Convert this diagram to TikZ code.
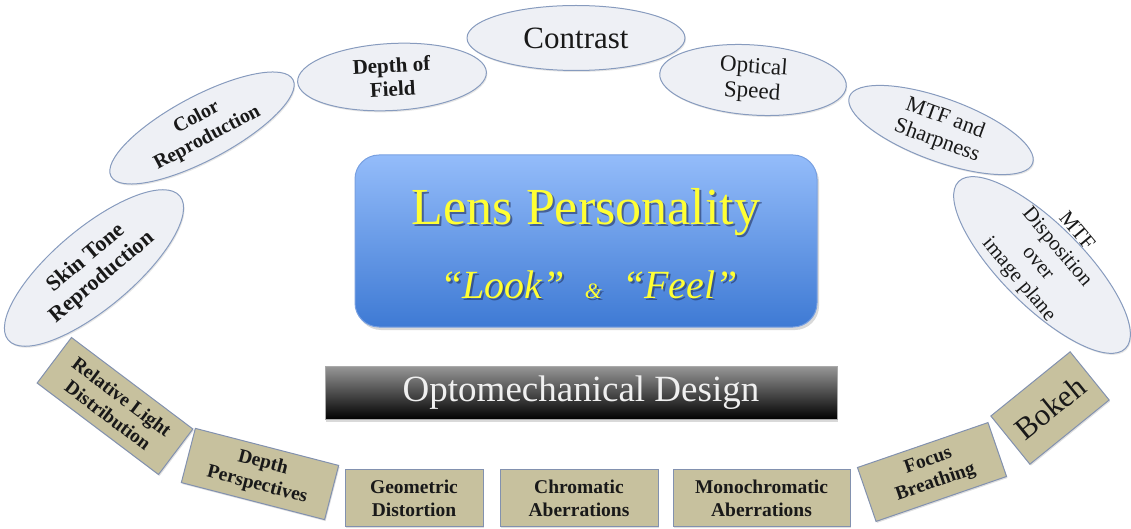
\documentclass[tikz,border=0pt]{standalone}
\usepackage{fontspec}
\setmainfont{Liberation Serif}
\usetikzlibrary{shapes.geometric,shadows}

\definecolor{ovalfill}{RGB}{238,240,245}
\definecolor{ovalline}{RGB}{135,155,190}
\definecolor{tanfill}{RGB}{199,193,158}
\definecolor{tanline}{RGB}{130,145,175}
\definecolor{lenstop}{RGB}{148,188,250}
\definecolor{lensbot}{RGB}{62,122,212}
\definecolor{lensedge}{RGB}{120,160,225}
\definecolor{lensyellow}{RGB}{255,255,51}
\definecolor{lensshade}{RGB}{35,50,95}
\definecolor{bartop}{RGB}{150,150,150}
\definecolor{barline}{RGB}{170,170,170}
\definecolor{bartext}{RGB}{240,240,240}
\definecolor{inktext}{RGB}{25,25,25}

\newcommand{\fsz}[2]{\fontsize{#1}{#2}\selectfont}

\begin{document}
\begin{tikzpicture}[x=1pt, y=-1pt,
    oval/.style={ellipse, draw=ovalline, fill=ovalfill, line width=1pt, inner sep=0pt,
      align=center, text=inktext,
      drop shadow={shadow xshift=1pt, shadow yshift=-1.5pt, opacity=0.2}},
    tanbox/.style={rectangle, draw=tanline, fill=tanfill, line width=1pt, inner sep=0pt,
      align=center, text=inktext, minimum height=57pt, font=\fsz{19.5}{23}\bfseries,
      drop shadow={shadow xshift=1pt, shadow yshift=-1.5pt, opacity=0.25}},
    lenstext/.style={text=lensyellow, inner sep=0pt, anchor=base},
    lensback/.style={text=lensshade, opacity=0.6, inner sep=0pt, anchor=base}]
    \useasboundingbox (0,0) rectangle (1131,529);

    % ovals round the top
    \node[oval, minimum width=218pt, minimum height=65pt, font=\fsz{31}{34}] (contrast) at (576,38) {Contrast};
    \node[oval, minimum width=189pt, minimum height=67pt, rotate=3, font=\fsz{21}{24}\bfseries] (field) at (392,77) {Depth of\\Field};
    \node[oval, minimum width=187pt, minimum height=70pt, rotate=-4, font=\fsz{23}{25}] (speed) at (753,80) {Optical\\Speed};
    \node[oval, minimum width=206pt, minimum height=64pt, rotate=28, font=\fsz{20}{23}\bfseries] (color) at (202,128) {Color\\Reproduction};
    \node[oval, minimum width=195pt, minimum height=63pt, rotate=-20, font=\fsz{22}{24}] (sharp) at (941,130) {MTF and\\Sharpness};
    \node[oval, minimum width=224pt, minimum height=80pt, rotate=40, font=\fsz{22}{25}\bfseries] (skin) at (94,268) {Skin Tone\\Reproduction};
    \node[oval, minimum width=236pt, minimum height=82pt, rotate=-45] (plane) at (1042,265) {};
    \node[rotate=-50, align=center, text=inktext, inner sep=0pt, font=\fsz{21}{25}] (planetext) at (1047,256) {MTF\\Disposition\\over\\image plane};

    % centre
    \node[rectangle, rounded corners=24pt, minimum width=462pt, minimum height=172pt,
      top color=lenstop, bottom color=lensbot, draw=lensedge, line width=1pt,
      drop shadow={shadow xshift=2pt, shadow yshift=-3pt, opacity=0.3}] (lens) at (586,241) {};
    \node[lensback, font=\fsz{52}{52}] (titleback) at (588,227) {Lens Personality};
    \node[lenstext, font=\fsz{52}{52}] (title) at (586,225) {Lens Personality};
    \node[lensback, font=\fsz{40}{40}\itshape] (lookback) at (591,300) {“Look”\ \ {\fsz{22}{22}\&}\ \ “Feel”};
    \node[lenstext, font=\fsz{40}{40}\itshape] (look) at (589,298) {“Look”\ \ {\fsz{22}{22}\&}\ \ “Feel”};

    \node[rectangle, minimum width=512pt, minimum height=53pt, top color=bartop, bottom color=black,
      draw=barline, line width=1pt, text=bartext, font=\fsz{37}{37},
      drop shadow={shadow xshift=1pt, shadow yshift=-2pt, opacity=0.3}] (design) at (581,393) {Optomechanical Design};

    % boxes round the bottom
    \node[tanbox, minimum width=152pt, rotate=-37] (light) at (115,406) {Relative Light\\Distribution};
    \node[tanbox, minimum width=148pt, minimum height=56pt, rotate=-14.5] (persp) at (260,474) {Depth\\Perspectives};
    \node[tanbox, minimum width=138pt] (geo) at (414,498) {Geometric\\Distortion};
    \node[tanbox, minimum width=158pt] (chroma) at (579,498) {Chromatic\\Aberrations};
    \node[tanbox, minimum width=177pt] (mono) at (761.5,498) {Monochromatic\\Aberrations};
    \node[tanbox, minimum width=138pt, rotate=19] (focus) at (932,472) {Focus\\Breathing};
    \node[tanbox, minimum width=102pt, minimum height=62pt, rotate=39, font=\fsz{31}{34}] (bokeh) at (1050,408) {Bokeh};
\end{tikzpicture}
\end{document}
